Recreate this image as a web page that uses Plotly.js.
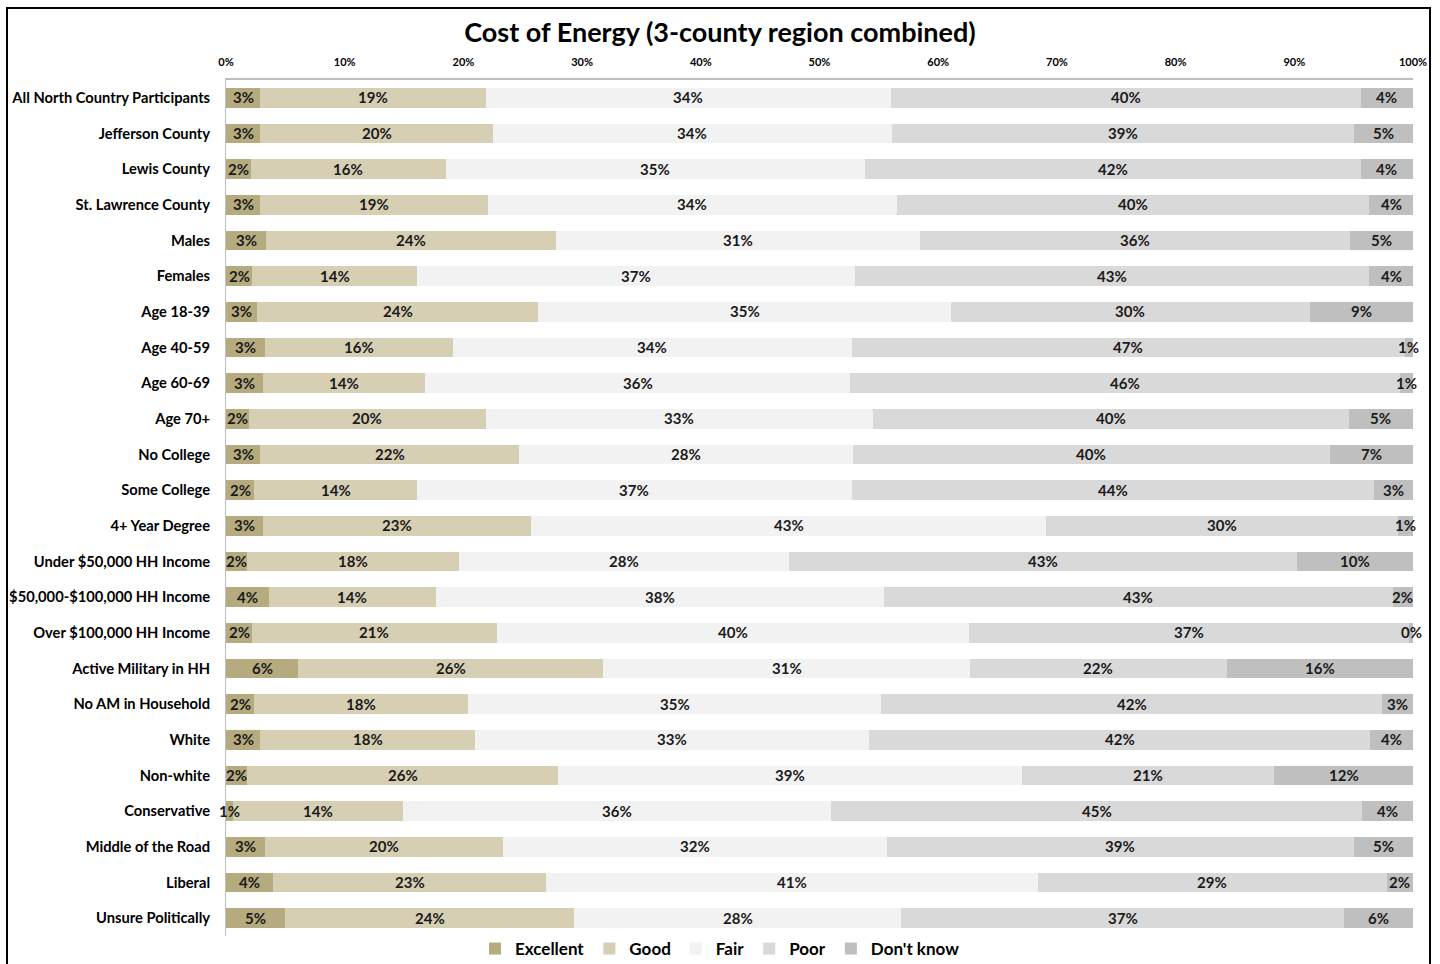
<!DOCTYPE html>
<html>
<head>
<meta charset="utf-8">
<script src="https://cdn.plot.ly/plotly-3.0.1.min.js"></script>
<style>
  html, body { margin: 0; padding: 0; background: #fff; }
  #chart { position: absolute; left: 0; top: 0; width: 1440px; height: 964px; }
  #frame { position: absolute; left: 6px; top: 7px; width: 1425px; height: 980px;
           border: 2px solid #000; pointer-events: none; box-sizing: border-box; }
</style>
</head>
<body>
<div id="chart"></div>
<div id="frame"></div>
<script>
const categories = [
  "All North Country Participants", "Jefferson County", "Lewis County", "St. Lawrence County",
  "Males", "Females", "Age 18-39", "Age 40-59", "Age 60-69", "Age 70+",
  "No College", "Some College", "4+ Year Degree", "Under $50,000 HH Income",
  "$50,000-$100,000 HH Income", "Over $100,000 HH Income", "Active Military in HH",
  "No AM in Household", "White", "Non-white", "Conservative", "Middle of the Road",
  "Liberal", "Unsure Politically"
];
const excellent = [2.9, 2.9, 2.1, 2.9, 3.4, 2.2, 2.6, 3.3, 3.1, 1.9, 2.9, 2.4, 3.1, 1.8, 3.6, 2.2, 6.1, 2.4, 2.9, 1.8, 0.6, 3.3, 4.0, 5.0];
const good      = [19.0, 19.6, 16.4, 19.2, 24.4, 13.9, 23.7, 15.8, 13.7, 20.0, 21.8, 13.7, 22.6, 17.8, 14.1, 20.6, 25.7, 18.0, 18.1, 26.2, 14.3, 20.0, 23.0, 24.3];
const fair      = [34.1, 33.6, 35.3, 34.4, 30.7, 36.9, 34.8, 33.6, 35.8, 32.6, 28.1, 36.6, 43.4, 27.8, 37.7, 39.8, 30.9, 34.8, 33.2, 39.1, 36.1, 32.4, 41.4, 27.6];
const poor      = [39.6, 38.9, 41.8, 39.8, 36.2, 43.3, 30.2, 46.6, 46.3, 40.1, 40.2, 44.0, 29.6, 42.8, 42.9, 37.1, 21.6, 42.2, 42.2, 21.2, 44.7, 39.3, 29.4, 37.3];
const dontKnow  = [4.4, 5.0, 4.4, 3.7, 5.3, 3.7, 8.7, 0.7, 1.1, 5.4, 7.0, 3.3, 1.3, 9.8, 1.7, 0.3, 15.7, 2.6, 3.6, 11.7, 4.3, 5.0, 2.2, 5.8];

const seriesNames = ["Excellent", "Good", "Fair", "Poor", "Don't know"];
const seriesData = [excellent, good, fair, poor, dontKnow];
const seriesColors = ["#b5ab7e", "#d6cfb3", "#f2f2f2", "#d9d9d9", "#bfbfbf"];

const FONT = "Lato, 'Open Sans', sans-serif";

const barTraces = seriesNames.map((name, i) => ({
  type: "bar",
  orientation: "h",
  name: name,
  y: categories,
  x: seriesData[i],
  marker: { color: seriesColors[i], line: { width: 0 } },
  hoverinfo: "name+x+y"
}));

// Segment labels as annotations at each segment's midpoint (drawn above all bars)
const annotations = [];
const cum = categories.map(() => 0);
seriesData.forEach((vals) => {
  vals.forEach((v, k) => {
    annotations.push({
      xref: "x", yref: "y",
      x: cum[k] + v / 2,
      y: categories[k],
      text: Math.round(v) + "%",
      showarrow: false,
      xanchor: "center", yanchor: "middle",
      yshift: 0.5,
      font: { family: FONT, size: 15, color: "#1a1a1a", weight: "bold" }
    });
    cum[k] += v;
  });
});

const layout = {
  width: 1440,
  height: 964,
  paper_bgcolor: "#ffffff",
  plot_bgcolor: "#ffffff",
  barmode: "stack",
  bargap: 0.44,
  margin: { l: 226, r: 27, t: 80, b: 28, pad: 0, autoexpand: false },
  title: {
    text: "Cost of Energy (3-county region combined)",
    font: { family: FONT, size: 27, color: "#000", weight: "bold" },
    xref: "container", x: 0.5, xanchor: "center",
    yref: "container", y: 1 - 33 / 964, yanchor: "middle",
    automargin: false
  },
  xaxis: {
    side: "top",
    range: [0, 100],
    autorange: false,
    automargin: false,
    tickvals: [0, 10, 20, 30, 40, 50, 60, 70, 80, 90, 100],
    ticktext: ["0%", "10%", "20%", "30%", "40%", "50%", "60%", "70%", "80%", "90%", "100%"],
    tickfont: { family: FONT, size: 11, color: "#000", weight: "bold" },
    ticks: "outside", ticklen: 8, tickcolor: "rgba(0,0,0,0)",
    showgrid: false, zeroline: false,
    showline: true, linecolor: "#bfbfbf", linewidth: 2,
    fixedrange: true
  },
  yaxis: {
    type: "category",
    autorange: false,
    automargin: false,
    range: [categories.length - 0.5, -0.5],
    tickfont: { family: FONT, size: 14.7, color: "#000", weight: "bold" },
    ticks: "outside", ticklen: 12, tickcolor: "rgba(0,0,0,0)",
    showgrid: false, zeroline: false,
    showline: true, linecolor: "#bfbfbf", linewidth: 1,
    fixedrange: true
  },
  legend: {
    orientation: "h",
    xref: "container", x: 0.5, xanchor: "center",
    yref: "container", y: 1 - 949 / 964, yanchor: "middle",
    font: { family: FONT, size: 17, color: "#000", weight: "bold" },
    itemwidth: 30,
    traceorder: "normal"
  },
  annotations: annotations,
  showlegend: true
};

Plotly.newPlot("chart", barTraces, layout, { displayModeBar: false });
</script>
</body>
</html>
